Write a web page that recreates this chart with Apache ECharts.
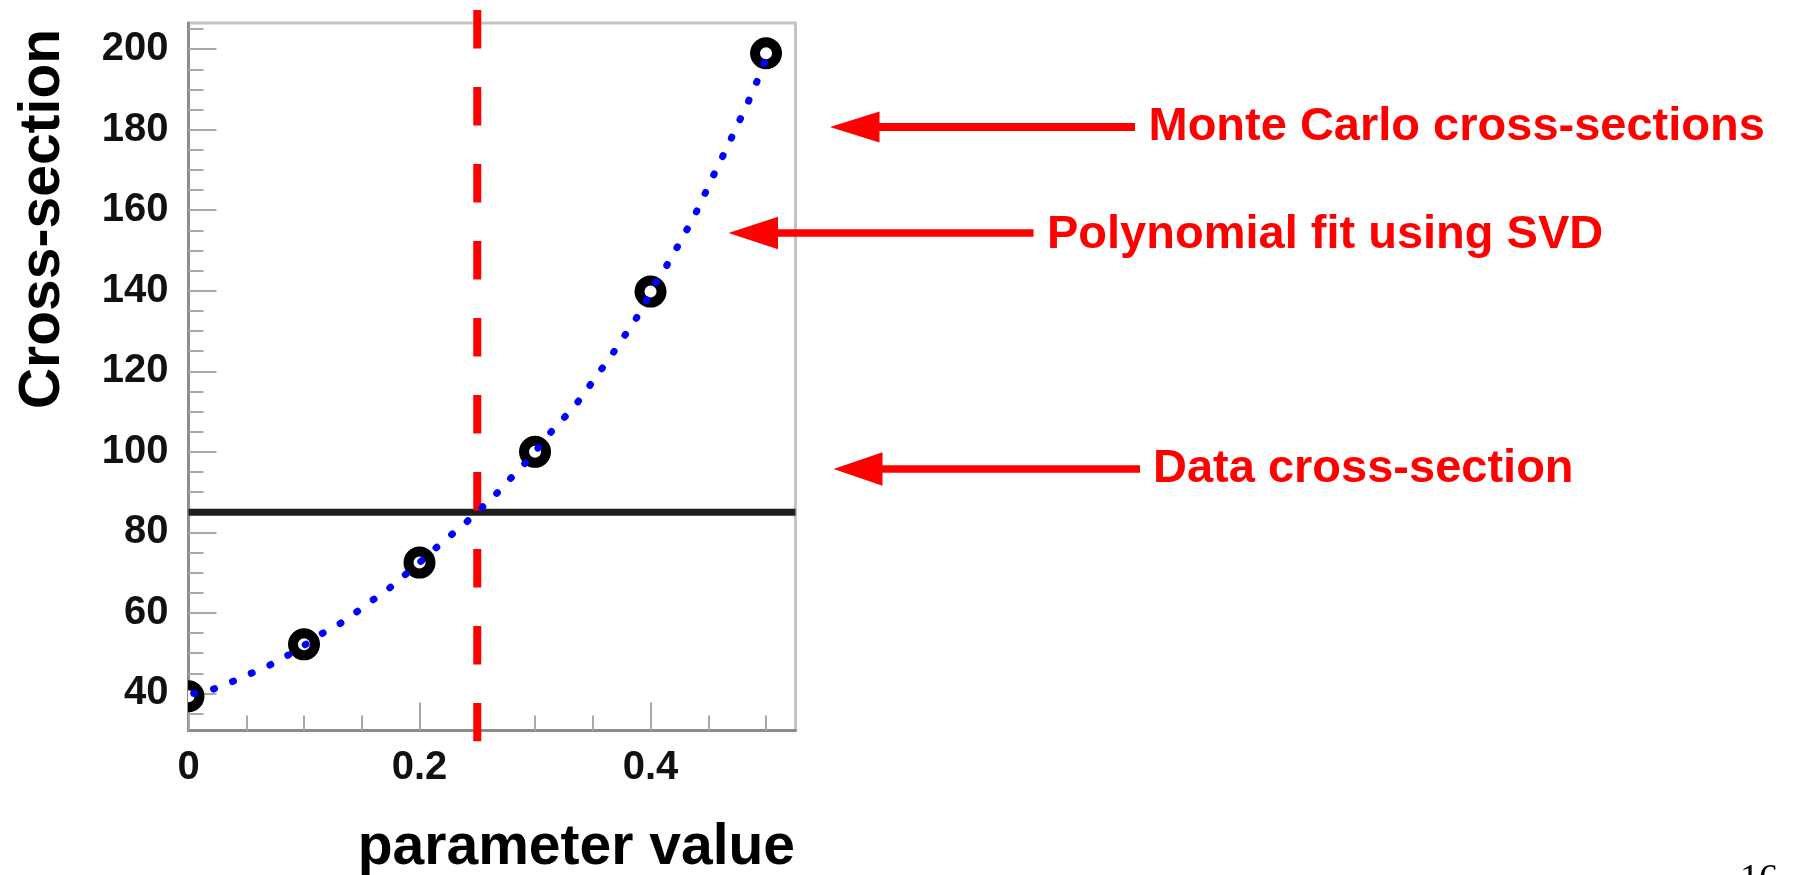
<!DOCTYPE html>
<html>
<head>
<meta charset="utf-8">
<script src="https://cdn.jsdelivr.net/npm/echarts@6/dist/echarts.min.js"></script>
<style>
html,body{margin:0;padding:0;background:#fff;}
#chart{width:1797px;height:875px;}
</style>
</head>
<body>
<div id="chart"></div>
<script>
// Monte Carlo cross-sections (open circles)
const mcX = [0, 0.1, 0.2, 0.3, 0.4, 0.5];
const mcY = [39.3, 52.2, 72.5, 100.0, 139.8, 199.0];

// Polynomial fit using SVD (blue dotted curve)
const fitX = [0.0045, 0.0217, 0.0376, 0.0543, 0.070, 0.0851, 0.1005, 0.1145, 0.1295, 0.144,
              0.158, 0.1725, 0.1856, 0.2, 0.2128, 0.2255, 0.239, 0.25, 0.264, 0.276,
              0.2875, 0.3, 0.3115, 0.3228, 0.335, 0.345, 0.3554, 0.3654, 0.375, 0.3849,
              0.394, 0.4, 0.412, 0.4202, 0.428, 0.437, 0.4447, 0.4519, 0.4596, 0.4673,
              0.4745, 0.4822, 0.489, 0.4958, 0.5];
const fitY = [40.0, 41.1, 42.9, 45.0, 47.0, 49.3, 52.0, 54.7, 57.0, 59.9,
              62.9, 65.8, 69.0, 72.5, 75.8, 78.9, 82.1, 85.1, 88.8, 92.6,
              95.9, 100.0, 104.2, 107.7, 111.6, 115.5, 119.7, 123.6, 127.8, 131.9,
              136.1, 140.0, 145.3, 149.3, 153.4, 158.0, 162.6, 167.1, 171.7, 176.2,
              180.8, 185.3, 189.9, 194.4, 198.0];

// Data cross-section (horizontal line) and crossing parameter (red dashed line)
const dataXS = 85.0;
const crossParam = 0.25;
const redLineY = [209.7, 28.15];

// Axis ranges and ticks
const xRange = [0, 0.5255];
const yRange = [30.8, 206.5];
const xMajorTicks = [0, 0.2, 0.4];
const xMinorTicks = [0.05, 0.1, 0.15, 0.25, 0.3, 0.35, 0.45, 0.5];
const yMajorTicks = [40, 60, 80, 100, 120, 140, 160, 180, 200];
const yMinorTicks = [35, 45, 50, 55, 65, 70, 75, 85, 90, 95, 105, 110, 115, 125, 130, 135,
                     145, 150, 155, 165, 170, 175, 185, 190, 195, 205];

// Texts
const yTitle = 'Cross-section';
const xTitle = 'parameter value';
const notes = ['Monte Carlo cross-sections', 'Polynomial fit using SVD', 'Data cross-section'];
const pageNo = '16';

const FONT = '"Liberation Sans", Arial, Helvetica, sans-serif';

const chart = echarts.init(document.getElementById('chart'));
const tickColor = '#a8a8a8';
const axisColor = '#8c8c8c';

const mcData = mcX.map((x, i) => [x, mcY[i]]);
const fitData = fitX.map((x, i) => [x, fitY[i]]);

function arrow(tipX, tipY, baseX, headHalf, endX, thick) {
  return [
    {type: 'polygon', shape: {points: [[tipX, tipY], [baseX, tipY - headHalf], [baseX, tipY + headHalf]]},
     style: {fill: '#ff0000'}, z: 10},
    {type: 'rect', shape: {x: baseX - 1, y: tipY - thick / 2, width: endX - baseX + 1, height: thick},
     style: {fill: '#ff0000'}, z: 10}
  ];
}

const labelStyle = {fontSize: 40, fontFamily: FONT, fontWeight: 'bold', color: '#111'};

const option = {
  backgroundColor: '#ffffff',
  animation: false,
  grid: {left: 188.5, top: 23, width: 607, height: 707.5, show: true,
         borderColor: '#c4c4c4', borderWidth: 3, backgroundColor: 'transparent'},
  xAxis: [
    {type: 'value', min: xRange[0], max: xRange[1], position: 'bottom',
     axisLine: {show: true, lineStyle: {color: axisColor, width: 3}},
     axisTick: {show: true, inside: true, length: 15, customValues: xMinorTicks,
                lineStyle: {color: tickColor, width: 2}},
     axisLabel: {show: false}, splitLine: {show: false}},
    {type: 'value', min: xRange[0], max: xRange[1], position: 'bottom',
     axisLine: {show: false},
     axisTick: {show: true, inside: true, length: 28, customValues: xMajorTicks,
                lineStyle: {color: tickColor, width: 2}},
     axisLabel: Object.assign({show: true, customValues: xMajorTicks, margin: 17}, labelStyle),
     splitLine: {show: false}}
  ],
  yAxis: [
    {type: 'value', min: yRange[0], max: yRange[1], position: 'left',
     axisLine: {show: true, lineStyle: {color: axisColor, width: 3}},
     axisTick: {show: true, inside: true, length: 15, customValues: yMinorTicks,
                lineStyle: {color: tickColor, width: 2}},
     axisLabel: {show: false}, splitLine: {show: false}},
    {type: 'value', min: yRange[0], max: yRange[1], position: 'left',
     axisLine: {show: false},
     axisTick: {show: true, inside: true, length: 28, customValues: yMajorTicks,
                lineStyle: {color: tickColor, width: 2}},
     axisLabel: Object.assign({show: true, customValues: yMajorTicks, margin: 20}, labelStyle),
     splitLine: {show: false}}
  ],
  series: [
    {name: 'Monte Carlo cross-sections', type: 'custom', xAxisIndex: 0, yAxisIndex: 0,
     data: mcData, clip: true, z: 2,
     renderItem: function (params, api) {
       const p = api.coord([api.value(0), api.value(1)]);
       return {type: 'circle', shape: {cx: p[0], cy: p[1], r: 11},
               style: {fill: '#ffffff', stroke: '#000000', lineWidth: 10}};
     }},
    {name: 'Data cross-section', type: 'line', xAxisIndex: 0, yAxisIndex: 0,
     data: [[xRange[0], dataXS], [xRange[1], dataXS]], showSymbol: false, symbol: 'none', z: 3,
     lineStyle: {color: '#1e1e1e', width: 7}},
    {name: 'Crossing', type: 'line', xAxisIndex: 0, yAxisIndex: 0, clip: false,
     data: [[crossParam, redLineY[0]], [crossParam, redLineY[1]]], showSymbol: false, symbol: 'none', z: 4,
     lineStyle: {color: '#ff0000', width: 8, type: [38.3, 38.7], cap: 'butt'}},
    {name: 'Polynomial fit using SVD', type: 'line', xAxisIndex: 0, yAxisIndex: 0,
     data: fitData, showSymbol: false, symbol: 'none', z: 5, smooth: false,
     lineStyle: {color: '#0000ff', width: 7, type: [1, 19.4], cap: 'round'}}
  ],
  graphic: [
    {type: 'text', x: 43, y: 219, rotation: Math.PI / 2, z: 10,
     style: {text: yTitle, font: 'bold 57px ' + FONT, fill: '#000', textAlign: 'center', textVerticalAlign: 'middle'}},
    {type: 'text', x: 795, y: 848, z: 10,
     style: {text: xTitle, font: 'bold 57px ' + FONT, fill: '#000', textAlign: 'right', textVerticalAlign: 'middle'}},
    {type: 'text', x: 1148.5, y: 127, z: 10,
     style: {text: notes[0], font: 'bold 47px ' + FONT, fill: '#ff0000', textAlign: 'left', textVerticalAlign: 'middle'}},
    {type: 'text', x: 1047, y: 235, z: 10,
     style: {text: notes[1], font: 'bold 47px ' + FONT, fill: '#ff0000', textAlign: 'left', textVerticalAlign: 'middle'}},
    {type: 'text', x: 1153, y: 469, z: 10,
     style: {text: notes[2], font: 'bold 47px ' + FONT, fill: '#ff0000', textAlign: 'left', textVerticalAlign: 'middle'}},
    {type: 'text', x: 1778, y: 880, z: 10,
     style: {text: pageNo, font: '38px "Liberation Serif", "Times New Roman", serif', fill: '#000', textAlign: 'right', textVerticalAlign: 'middle'}},
    ...arrow(830, 127, 879.5, 15.5, 1135, 8),
    ...arrow(728.5, 233, 778, 16.3, 1033.5, 7.5),
    ...arrow(833.5, 469, 882.5, 16.7, 1140, 7.7)
  ]
};
chart.setOption(option);
</script>
</body>
</html>
